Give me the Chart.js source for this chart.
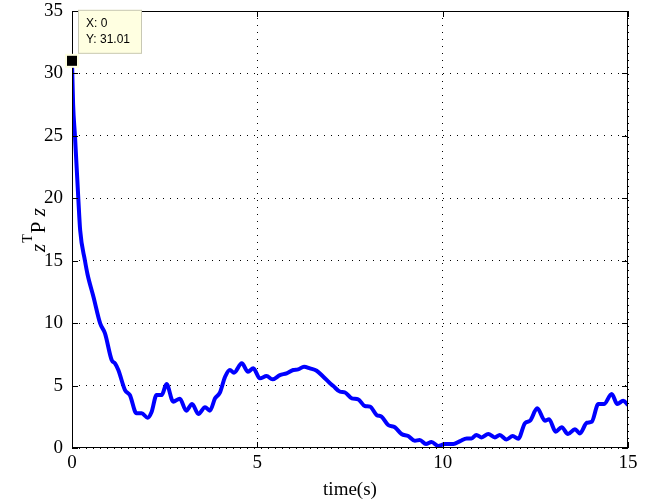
<!DOCTYPE html>
<html>
<head>
<meta charset="utf-8">
<script src="https://cdn.jsdelivr.net/npm/chart.js@4"></script>
<style>
  html, body { margin: 0; padding: 0; background: #fff; }
  #c { display: block; }
</style>
</head>
<body>
<canvas id="c" width="651" height="501"></canvas>
<script>
// time (s) and z'Pz values
var timeVals = [0, 0.03, 0.08, 0.17, 0.22, 0.35, 0.42, 0.58, 0.76, 0.89, 1.07, 1.16, 1.25, 1.43, 1.56,
  1.74, 1.88, 2.04, 2.15, 2.28, 2.42, 2.55, 2.73, 2.91, 3.08, 3.24, 3.41, 3.59, 3.72, 3.86, 3.99,
  4.13, 4.26, 4.37, 4.58, 4.75, 4.89, 5.07, 5.25, 5.41, 5.61, 5.79, 5.97, 6.10, 6.26, 6.42, 6.60,
  6.78, 6.96, 7.05, 7.23, 7.36, 7.55, 7.72, 7.90, 8.04, 8.22, 8.35, 8.53, 8.71, 8.89, 9.07, 9.25,
  9.38, 9.55, 9.70, 9.88, 10.06, 10.29, 10.47, 10.65, 10.78, 10.91, 11.05, 11.23, 11.41, 11.54,
  11.72, 11.89, 12.04, 12.22, 12.36, 12.55, 12.76, 12.87, 13.05, 13.21, 13.38, 13.57, 13.70, 13.89,
  14.02, 14.20, 14.35, 14.56, 14.71, 14.87, 15.0];
var zPzVals = [31.01, 27.5, 25.0, 20.0, 17.45, 15.0, 13.9, 12.1, 9.98, 9.18, 7.05, 6.78, 6.25, 4.64, 4.24,
  2.78, 2.78, 2.43, 2.91, 4.24, 4.24, 5.12, 3.71, 3.95, 2.99, 3.52, 2.72, 3.26, 2.99, 3.98, 4.43,
  5.71, 6.25, 6.03, 6.78, 6.11, 6.38, 5.58, 5.76, 5.50, 5.84, 5.98, 6.25, 6.30, 6.51, 6.38, 6.19,
  5.71, 5.18, 4.96, 4.51, 4.46, 3.98, 3.90, 3.36, 3.31, 2.64, 2.51, 1.84, 1.66, 1.12, 0.96, 0.58,
  0.64, 0.32, 0.48, 0.16, 0.32, 0.32, 0.55, 0.77, 0.77, 1.04, 0.85, 1.12, 0.85, 1.04,
  0.69, 0.96, 0.75, 1.98, 2.19, 3.18, 2.19, 2.30, 1.31, 1.66, 1.12, 1.50, 1.17, 2.02,
  2.10, 3.52, 3.52, 4.32, 3.52, 3.79, 3.44];
var xTicks = [0, 5, 10, 15];
var yTicks = [0, 5, 10, 15, 20, 25, 30, 35];
var tipX = 0, tipY = 31.01;

var pts = [];
for (var i = 0; i < timeVals.length; i++) pts.push({x: timeVals[i], y: zPzVals[i]});

var serif = '"Liberation Serif", "DejaVu Serif", serif';

var boxPlugin = {
  id: 'boxPlugin',
  afterDraw: function(chart) {
    var ctx = chart.ctx, a = chart.chartArea;
    var xs = chart.scales.x, ys = chart.scales.y;
    ctx.save();
    ctx.strokeStyle = '#000';
    ctx.lineWidth = 1;
    ctx.strokeRect(a.left + 0.5, a.top + 0.5, a.right - a.left - 1, a.bottom - a.top - 1);
    ctx.beginPath();
    xTicks.forEach(function(v) {
      var px = Math.round(xs.getPixelForValue(v)) + 0.5;
      ctx.moveTo(px, a.bottom); ctx.lineTo(px, a.bottom - 6);
      ctx.moveTo(px, a.top); ctx.lineTo(px, a.top + 6);
    });
    yTicks.forEach(function(v) {
      var py = Math.round(ys.getPixelForValue(v)) + 0.5;
      ctx.moveTo(a.left, py); ctx.lineTo(a.left + 6, py);
      ctx.moveTo(a.right, py); ctx.lineTo(a.right - 6, py);
    });
    ctx.stroke();

    // axis titles
    ctx.fillStyle = '#000';
    ctx.font = '19px ' + serif;
    ctx.textAlign = 'center';
    ctx.textBaseline = 'alphabetic';
    ctx.fillText('time(s)', (a.left + a.right) / 2, 495);

    ctx.save();
    ctx.translate(45, 252);
    ctx.rotate(-Math.PI / 2);
    ctx.textAlign = 'left';
    ctx.font = 'italic 21px ' + serif;
    ctx.fillText('z', 0, 0);
    var w = ctx.measureText('z').width;
    ctx.font = '14px ' + serif;
    ctx.fillText('T', w + 1, -13);
    var wt = ctx.measureText('T').width;
    ctx.font = '21px ' + serif;
    ctx.fillText('P', w + wt + 2, 0);
    var w2 = ctx.measureText('P ').width;
    ctx.font = 'italic 21px ' + serif;
    ctx.fillText('z', w + wt + 2 + w2, 0);
    ctx.restore();

    // data tip
    var mx = xs.getPixelForValue(tipX), my = ys.getPixelForValue(tipY);
    ctx.fillStyle = '#ffffe1';
    ctx.fillRect(mx - 7, my - 7, 14, 14);
    ctx.fillStyle = '#000';
    ctx.fillRect(mx - 5, my - 5, 10, 10);
    var bx = mx + 6, by = my - 51;
    ctx.fillStyle = '#ffffe1';
    ctx.fillRect(bx, by, 64, 44);
    ctx.strokeStyle = '#c8c8b4';
    ctx.strokeRect(bx + 0.5, by + 0.5, 63, 43);
    ctx.fillStyle = '#000';
    ctx.font = '12px "Liberation Sans", Arial, sans-serif';
    ctx.textAlign = 'left';
    ctx.textBaseline = 'middle';
    ctx.fillText('X: ' + tipX, bx + 8, by + 14);
    ctx.fillText('Y: ' + tipY.toFixed(2), bx + 8, by + 30);
    ctx.restore();
  }
};

new Chart(document.getElementById('c'), {
  type: 'line',
  data: {
    datasets: [{
      data: pts,
      borderColor: '#0000ff',
      borderWidth: 4,
      pointRadius: 0,
      fill: false,
      cubicInterpolationMode: 'monotone'
    }]
  },
  options: {
    responsive: false,
    animation: false,
    layout: { padding: { top: 11, right: 23, left: 0, bottom: 0 } },
    plugins: { legend: { display: false }, tooltip: { enabled: false } },
    scales: {
      x: {
        type: 'linear', min: 0, max: 15,
        afterFit: function(s) { s.height = 53; s.paddingLeft = 0; s.paddingRight = 0; },
        afterBuildTicks: function(s) { s.ticks = xTicks.map(function(v) { return {value: v}; }); },
        ticks: { color: '#000', font: { family: serif, size: 19 }, padding: 4, maxRotation: 0 },
        grid: { color: '#000', lineWidth: 1, drawTicks: false },
        border: { display: false, dash: [1, 6] }
      },
      y: {
        type: 'linear', min: 0, max: 35,
        afterFit: function(s) { s.width = 72; s.paddingTop = 0; s.paddingBottom = 0; },
        afterBuildTicks: function(s) { s.ticks = yTicks.map(function(v) { return {value: v}; }); },
        ticks: { color: '#000', font: { family: serif, size: 19 }, padding: 9 },
        grid: { color: '#000', lineWidth: 1, drawTicks: false },
        border: { display: false, dash: [1, 6] }
      }
    }
  },
  plugins: [boxPlugin]
});
</script>
</body>
</html>
